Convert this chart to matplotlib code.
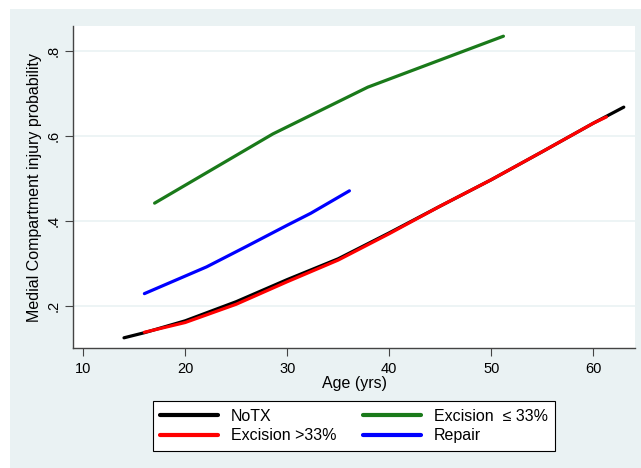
import matplotlib.pyplot as plt
from matplotlib.patches import Rectangle

plt.rcParams['font.family'] = ['Liberation Sans', 'DejaVu Sans']

# predicted probability by age
age_notx = [14, 16, 20, 25, 30, 35, 40, 45, 50, 55, 60, 63]
p_notx = [0.125, 0.137, 0.165, 0.210, 0.262, 0.311, 0.372, 0.435, 0.497, 0.563, 0.630, 0.668]

age_exc_big = [16, 20, 25, 30, 35, 40, 45, 50, 55, 60, 61.3]
p_exc_big = [0.138, 0.161, 0.204, 0.257, 0.308, 0.370, 0.435, 0.497, 0.563, 0.630, 0.645]

age_exc_small = [17, 28.6, 37.9, 51.2]
p_exc_small = [0.442, 0.605, 0.715, 0.835]

age_repair = [16, 22.1, 26, 30, 32.3, 36.1]
p_repair = [0.229, 0.292, 0.340, 0.390, 0.418, 0.471]

bg = '#eaf2f3'
fig = plt.figure(figsize=(6.41, 4.68), dpi=100, facecolor='white')
fig.patches.append(Rectangle((10 / 641, 0), 1, 1 - 9 / 468, transform=fig.transFigure,
                             facecolor=bg, edgecolor='none', zorder=-10))

ax = fig.add_axes([73 / 641, 1 - 348 / 468, (635 - 73) / 641, (348 - 26) / 468])
ax.set_facecolor('white')

ax.plot(age_notx, p_notx, color='black', lw=2.3, label='NoTX', solid_capstyle='round')
ax.plot(age_exc_big, p_exc_big, color='#ff0000', lw=2.3, label='Excision >33%', solid_capstyle='round')
ax.plot(age_exc_small, p_exc_small, color='#1a7a1a', lw=2.3, label='Excision  \u2264 33%', solid_capstyle='round')
ax.plot(age_repair, p_repair, color='#0000ff', lw=2.3, label='Repair', solid_capstyle='round')

ax.set_xlim(9.0, 64.1)
ax.set_ylim(0.101, 0.859)
ax.set_xticks([10, 20, 30, 40, 50, 60])
ax.set_yticks([0.2, 0.4, 0.6, 0.8])
ax.set_yticklabels(['.2', '.4', '.6', '.8'], rotation=90, va='center')
ax.tick_params(axis='both', direction='out', length=6, color='#444444', labelsize=10.5)
ax.tick_params(axis='y', pad=3)
ax.tick_params(axis='x', pad=4)
ax.grid(axis='y', color=bg, lw=1.2)
ax.set_axisbelow(True)

for s in ['top', 'right']:
    ax.spines[s].set_visible(False)
for s in ['left', 'bottom']:
    ax.spines[s].set_color('#444444')
    ax.spines[s].set_linewidth(1.0)

ax.set_xlabel('Age (yrs)', fontsize=11.5, labelpad=0)
ax.set_ylabel('Medial Compartment injury probability', fontsize=11.5, labelpad=3)

leg = fig.legend(loc='center', bbox_to_anchor=(354 / 641, 1 - 426 / 468), ncol=2,
                 fontsize=11.5, frameon=True, fancybox=False, edgecolor='black',
                 facecolor='white', framealpha=1,
                 handlelength=3.6, columnspacing=1.7, handletextpad=0.8,
                 borderpad=0.45, labelspacing=0.3)
leg.get_frame().set_linewidth(0.8)
for line in leg.get_lines():
    line.set_linewidth(3)

fig.savefig('out.png', dpi=100, facecolor=fig.get_facecolor())
